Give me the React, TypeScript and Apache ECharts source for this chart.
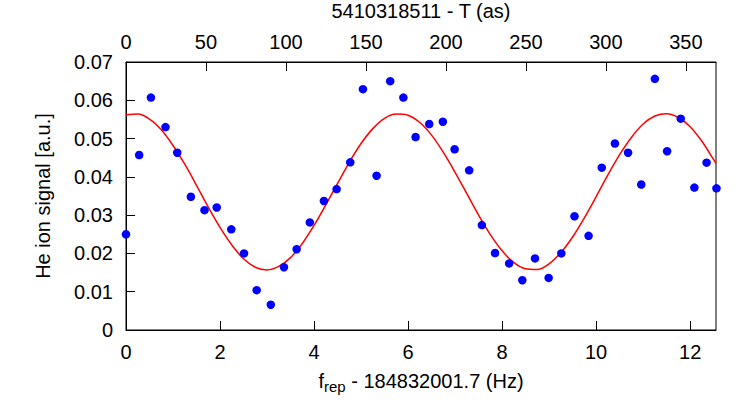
import React, { useEffect, useRef } from "react";
import * as echarts from "echarts";

// Measured points: frequency offset (Hz) and He ion signal (a.u.)
const pointX = [0, 0.28, 0.53, 0.84, 1.09, 1.38, 1.67, 1.93, 2.24, 2.51, 2.78, 3.08, 3.36, 3.63, 3.91, 4.21, 4.48, 4.77, 5.04, 5.33, 5.62, 5.9, 6.16, 6.45, 6.74, 6.99, 7.3, 7.57, 7.85, 8.15, 8.43, 8.7, 8.99, 9.26, 9.54, 9.84, 10.12, 10.4, 10.68, 10.96, 11.25, 11.51, 11.8, 12.09, 12.35, 12.56];
const pointY = [0.025, 0.0457, 0.0607, 0.053, 0.0463, 0.0348, 0.0313, 0.032, 0.0263, 0.02, 0.0104, 0.0066, 0.0164, 0.0211, 0.0281, 0.0337, 0.0368, 0.0438, 0.0629, 0.0403, 0.065, 0.0607, 0.0504, 0.0538, 0.0544, 0.0472, 0.0417, 0.0274, 0.0201, 0.0174, 0.013, 0.0187, 0.0136, 0.02, 0.0297, 0.0246, 0.0424, 0.0487, 0.0463, 0.038, 0.0656, 0.0467, 0.0552, 0.0372, 0.0437, 0.037];

// Fitted curve samples
const fitX = [0, 0.25, 0.5, 0.75, 1, 1.25, 1.5, 1.75, 2, 2.25, 2.5, 2.75, 3, 3.25, 3.5, 3.75, 4, 4.25, 4.5, 4.75, 5, 5.25, 5.5, 5.75, 6, 6.25, 6.5, 6.75, 7, 7.25, 7.5, 7.75, 8, 8.25, 8.5, 8.75, 9, 9.25, 9.5, 9.75, 10, 10.25, 10.5, 10.75, 11, 11.25, 11.5, 11.75, 12, 12.25, 12.5, 12.55];
const fitY = [0.0562, 0.0564, 0.0551, 0.0523, 0.0482, 0.0433, 0.0378, 0.0321, 0.0268, 0.0222, 0.0186, 0.0164, 0.0157, 0.0166, 0.0189, 0.0226, 0.0273, 0.0327, 0.0383, 0.0438, 0.0487, 0.0526, 0.0553, 0.0564, 0.0561, 0.0542, 0.0509, 0.0464, 0.0412, 0.0356, 0.03, 0.0249, 0.0207, 0.0176, 0.016, 0.0158, 0.0173, 0.0202, 0.0243, 0.0293, 0.0348, 0.0405, 0.0458, 0.0503, 0.0538, 0.0559, 0.0565, 0.0555, 0.0531, 0.0493, 0.0445, 0.0435];

// Axis ranges
const freqRange = [0, 12.55];
const freqStep = 2;
const timeRange = [0, 368.8];
const timeStep = 50;
const signalRange = [0, 0.07];
const signalStep = 0.01;

const FONT = "'Liberation Sans', Arial, Helvetica, sans-serif";

export default function App() {
  const ref = useRef<HTMLDivElement>(null);
  useEffect(() => {
    if (!ref.current) return;
    const chart = echarts.init(ref.current, undefined, { renderer: "svg" });
    const tickStyle = { show: true, inside: true, length: 9, lineStyle: { color: "#000", width: 1 } };
    const labelBase = { color: "#000", fontSize: 20, fontFamily: FONT };
    chart.setOption({
      animation: false,
      backgroundColor: "#fff",
      textStyle: { fontFamily: FONT },
      grid: {
        left: 126,
        right: 31,
        top: 62,
        bottom: 88,
        containLabel: false,
        outerBoundsMode: "none",
        show: true,
        borderColor: "#000",
        borderWidth: 1,
        backgroundColor: "transparent",
      },
      xAxis: [
        {
          type: "value",
          position: "bottom",
          min: freqRange[0],
          max: freqRange[1],
          interval: freqStep,
          name: "f{sub|rep} - 184832001.7 (Hz)",
          nameLocation: "middle",
          nameGap: 37,
          nameTextStyle: {
            ...labelBase,
            rich: {
              sub: { fontSize: 15, fontFamily: FONT, color: "#000", verticalAlign: "top", padding: [12, 0, 0, 0] },
            },
          },
          axisLine: { show: true, lineStyle: { color: "#000", width: 1 } },
          axisTick: tickStyle,
          axisLabel: { ...labelBase, margin: 12, showMaxLabel: false },
          splitLine: { show: false },
        },
        {
          type: "value",
          position: "top",
          min: timeRange[0],
          max: timeRange[1],
          interval: timeStep,
          name: "5410318511 - T (as)",
          nameLocation: "middle",
          nameGap: 41,
          nameTextStyle: labelBase,
          axisLine: { show: true, lineStyle: { color: "#000", width: 1 } },
          axisTick: tickStyle,
          axisLabel: { ...labelBase, margin: 10, showMaxLabel: false },
          splitLine: { show: false },
        },
      ],
      yAxis: {
        type: "value",
        min: signalRange[0],
        max: signalRange[1],
        interval: signalStep,
        name: "He ion signal [a.u.]",
        nameLocation: "middle",
        nameGap: 73,
        nameTextStyle: labelBase,
        axisLine: { show: true, lineStyle: { color: "#000", width: 1 } },
        axisTick: tickStyle,
        axisLabel: {
          ...labelBase,
          margin: 13,
          formatter: (v: number) => (v === 0 ? "0" : v.toFixed(2)),
        },
        splitLine: { show: false },
      },
      series: [
        {
          type: "line",
          xAxisIndex: 0,
          data: fitX.map((x, i) => [x, fitY[i]]),
          smooth: 0.3,
          showSymbol: false,
          lineStyle: { color: "#ff0000", width: 1.5 },
          z: 2,
        },
        {
          type: "scatter",
          xAxisIndex: 0,
          data: pointX.map((x, i) => [x, pointY[i]]),
          symbol: "circle",
          symbolSize: 8.5,
          itemStyle: { color: "#0000ff", opacity: 1 },
          clip: false,
          z: 3,
        },
      ],
    });
    return () => chart.dispose();
  }, []);
  return (
    <div
      ref={ref}
      style={{ position: "fixed", left: 0, top: 0, width: 747, height: 418, background: "#fff" }}
    />
  );
}
